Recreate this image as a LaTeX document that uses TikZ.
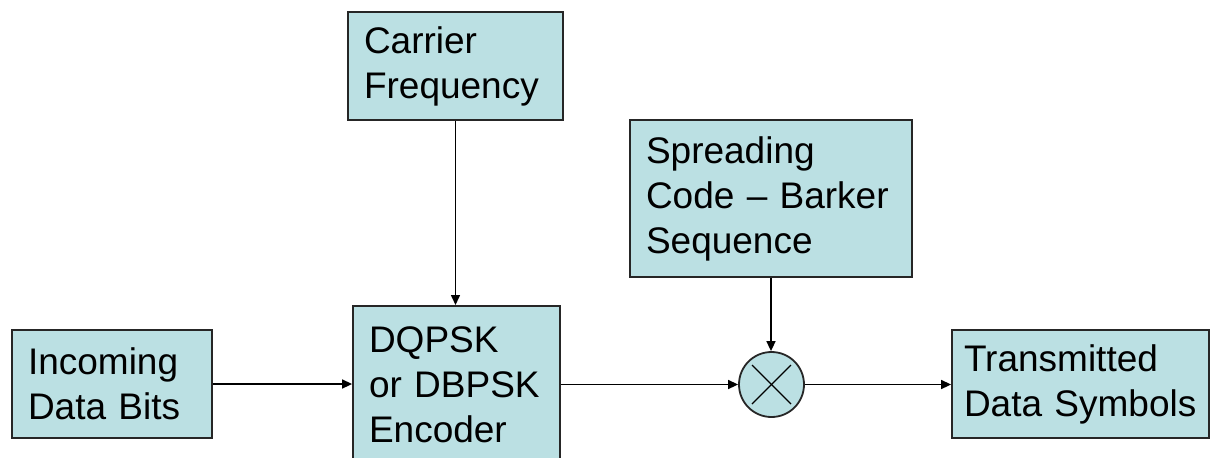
\documentclass[tikz,border=0pt]{standalone}
\usepackage{fontspec}
\setmainfont{Liberation Sans}
\usetikzlibrary{arrows.meta}
\definecolor{boxfill}{RGB}{187,224,227}

\begin{document}
\begin{tikzpicture}[x=0.5pt,y=-0.5pt,
  block/.style={draw=black!85,line width=0.9pt,fill=boxfill,rectangle,align=left,
    inner xsep=8pt,inner ysep=0pt,font=\fontsize{18.5pt}{22.5pt}\selectfont},
  sig/.style={line width=0.75pt,-{Triangle[length=5pt,width=4.5pt]}}]
\useasboundingbox (0,0) rectangle (1212,457);
\node[block,text width=84pt,minimum height=54pt] (incoming) at (112,384) {Incoming\\Data Bits};
\node[block,text width=91.5pt,minimum height=54pt] (carrier) at (455.5,66) {Carrier\\Frequency};
\node[block,text width=87.5pt,minimum height=78.5pt,anchor=north] (encoder) at (456.5,305) {DQPSK\\or DBPSK\\Encoder};
\node[block,text width=125pt,minimum height=78.5pt] (spreading) at (771,198.5) {Spreading\\Code -- Barker\\Sequence};
\node[block,text width=116.5pt,inner xsep=6pt,minimum height=54pt] (transmitted) at (1080.5,384) {Transmitted\\Data Symbols};
\node[draw=black!85,line width=0.9pt,fill=boxfill,circle,inner sep=0pt,minimum size=32.5pt] (mixer) at (771.5,384.5) {};
\draw[line width=0.6pt] ([shift={(-9.75pt,9.75pt)}]mixer.center) -- ([shift={(9.75pt,-9.75pt)}]mixer.center);
\draw[line width=0.6pt] ([shift={(-9.75pt,-9.75pt)}]mixer.center) -- ([shift={(9.75pt,9.75pt)}]mixer.center);
\draw[sig] (incoming.east) -- (incoming.east -| encoder.west);
\draw[sig] (carrier.south) -- (carrier.south |- encoder.north);
\draw[sig] (encoder.east |- mixer.west) -- (mixer.west);
\draw[sig] (spreading.south) -- (spreading.south |- mixer.north);
\draw[sig] (mixer.east) -- (mixer.east -| transmitted.west);
\end{tikzpicture}
\end{document}
